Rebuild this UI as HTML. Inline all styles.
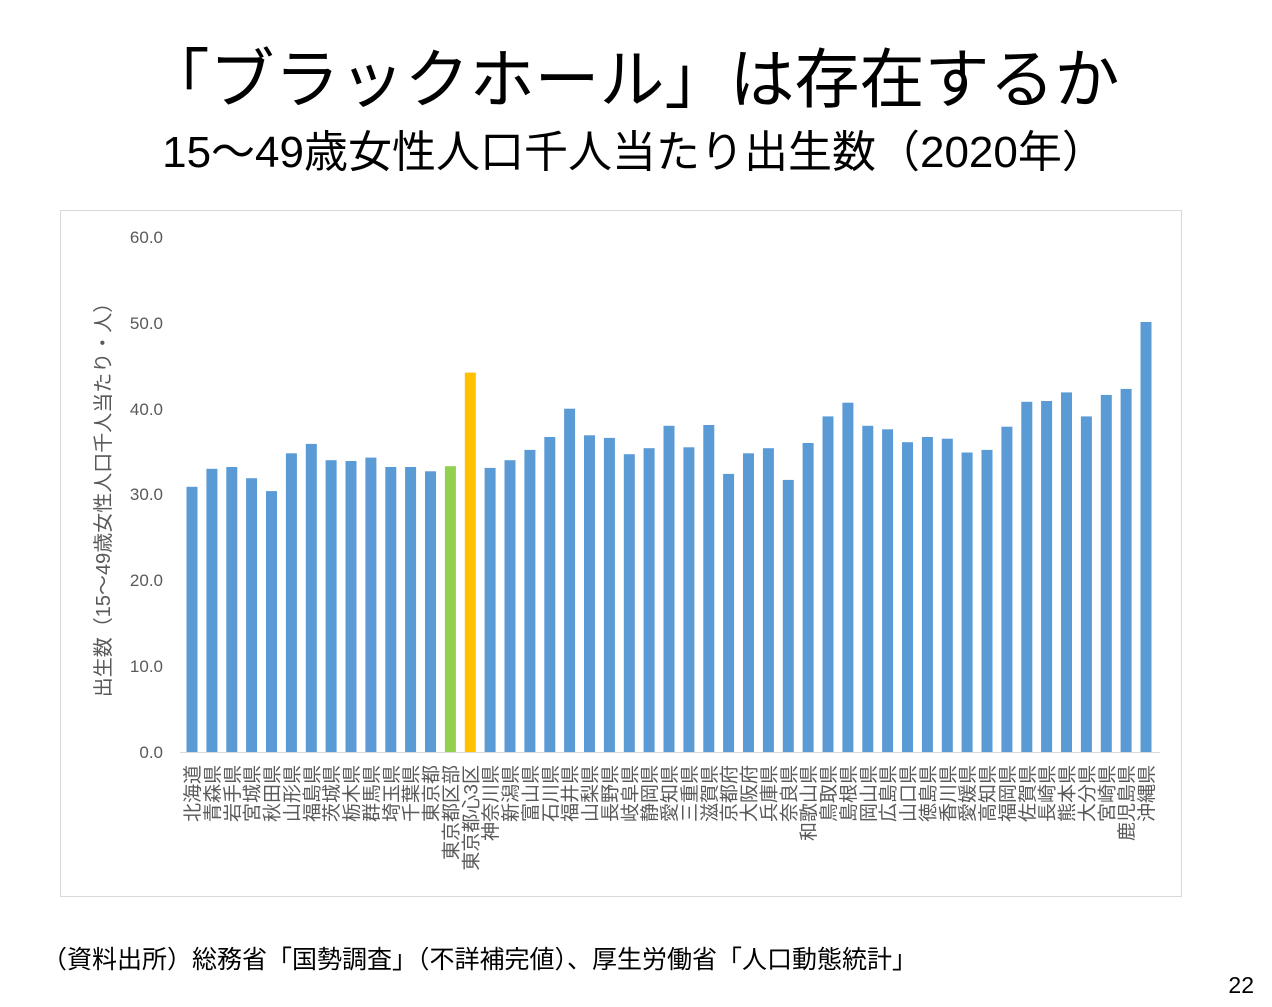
<!DOCTYPE html><html><head><meta charset="utf-8"><style>body{margin:0;background:#fff}svg{display:block}text{font-family:"Liberation Sans","Noto Sans CJK JP",sans-serif}</style></head><body>
<svg width="1272" height="1007" xmlns="http://www.w3.org/2000/svg">
<text x="632" y="102" font-size="65" text-anchor="middle" fill="#000">「ブラックホール」は存在するか</text>
<text x="634" y="167" font-size="44" text-anchor="middle" fill="#000">15～49歳女性人口千人当たり出生数（2020年）</text>
<rect x="60.5" y="210.5" width="1121" height="686" fill="none" stroke="#d9d9d9"/>
<g font-size="17" fill="#595959" text-anchor="end">
<text x="163" y="758">0.0</text><text x="163" y="672">10.0</text><text x="163" y="586">20.0</text><text x="163" y="500">30.0</text><text x="163" y="415">40.0</text><text x="163" y="329">50.0</text><text x="163" y="243">60.0</text>
</g>
<text transform="translate(110,495) rotate(-90)" font-size="20" fill="#595959" text-anchor="middle">出生数（15～49歳女性人口千人当たり・人）</text>
<line x1="180" y1="752.5" x2="1160" y2="752.5" stroke="#d9d9d9"/>
<g fill="#5b9bd5">
<rect x="186.5" y="486.8" width="11" height="265.2"/>
<rect x="206.4" y="468.8" width="11" height="283.2"/>
<rect x="226.3" y="467" width="11" height="285"/>
<rect x="246.1" y="478.2" width="11" height="273.8"/>
<rect x="266" y="491.1" width="11" height="260.9"/>
<rect x="285.9" y="453.3" width="11" height="298.7"/>
<rect x="305.8" y="443.9" width="11" height="308.1"/>
<rect x="325.6" y="460.2" width="11" height="291.8"/>
<rect x="345.5" y="461" width="11" height="291"/>
<rect x="365.4" y="457.6" width="11" height="294.4"/>
<rect x="385.3" y="467" width="11" height="285"/>
<rect x="405.1" y="467" width="11" height="285"/>
<rect x="425" y="471.3" width="11" height="280.7"/>
<rect x="444.9" y="466.2" width="11" height="285.8" fill="#92d050"/>
<rect x="464.8" y="372.6" width="11" height="379.4" fill="#ffc000"/>
<rect x="484.6" y="467.9" width="11" height="284.1"/>
<rect x="504.5" y="460.2" width="11" height="291.8"/>
<rect x="524.4" y="449.9" width="11" height="302.1"/>
<rect x="544.3" y="437" width="11" height="315"/>
<rect x="564.1" y="408.7" width="11" height="343.3"/>
<rect x="584" y="435.3" width="11" height="316.7"/>
<rect x="603.9" y="437.9" width="11" height="314.1"/>
<rect x="623.8" y="454.2" width="11" height="297.8"/>
<rect x="643.6" y="448.2" width="11" height="303.8"/>
<rect x="663.5" y="425.8" width="11" height="326.2"/>
<rect x="683.4" y="447.3" width="11" height="304.7"/>
<rect x="703.3" y="425" width="11" height="327"/>
<rect x="723.1" y="473.9" width="11" height="278.1"/>
<rect x="743" y="453.3" width="11" height="298.7"/>
<rect x="762.9" y="448.2" width="11" height="303.8"/>
<rect x="782.8" y="479.9" width="11" height="272.1"/>
<rect x="802.6" y="443" width="11" height="309"/>
<rect x="822.5" y="416.4" width="11" height="335.6"/>
<rect x="842.4" y="402.7" width="11" height="349.3"/>
<rect x="862.3" y="425.8" width="11" height="326.2"/>
<rect x="882.1" y="429.3" width="11" height="322.7"/>
<rect x="902" y="442.2" width="11" height="309.8"/>
<rect x="921.9" y="437" width="11" height="315"/>
<rect x="941.8" y="438.7" width="11" height="313.3"/>
<rect x="961.6" y="452.5" width="11" height="299.5"/>
<rect x="981.5" y="449.9" width="11" height="302.1"/>
<rect x="1001.4" y="426.7" width="11" height="325.3"/>
<rect x="1021.3" y="401.8" width="11" height="350.2"/>
<rect x="1041.1" y="401" width="11" height="351"/>
<rect x="1061" y="392.4" width="11" height="359.6"/>
<rect x="1080.9" y="416.4" width="11" height="335.6"/>
<rect x="1100.8" y="394.9" width="11" height="357.1"/>
<rect x="1120.6" y="388.9" width="11" height="363.1"/>
<rect x="1140.5" y="322" width="11" height="430"/>
</g>
<g font-size="19" fill="#595959" text-anchor="end">
<text transform="translate(199,765) rotate(-90)">北海道</text>
<text transform="translate(218.9,765) rotate(-90)">青森県</text>
<text transform="translate(238.8,765) rotate(-90)">岩手県</text>
<text transform="translate(258.6,765) rotate(-90)">宮城県</text>
<text transform="translate(278.5,765) rotate(-90)">秋田県</text>
<text transform="translate(298.4,765) rotate(-90)">山形県</text>
<text transform="translate(318.3,765) rotate(-90)">福島県</text>
<text transform="translate(338.1,765) rotate(-90)">茨城県</text>
<text transform="translate(358,765) rotate(-90)">栃木県</text>
<text transform="translate(377.9,765) rotate(-90)">群馬県</text>
<text transform="translate(397.8,765) rotate(-90)">埼玉県</text>
<text transform="translate(417.6,765) rotate(-90)">千葉県</text>
<text transform="translate(437.5,765) rotate(-90)">東京都</text>
<text transform="translate(457.4,765) rotate(-90)">東京都区部</text>
<text transform="translate(477.3,765) rotate(-90)">東京都心3区</text>
<text transform="translate(497.1,765) rotate(-90)">神奈川県</text>
<text transform="translate(517,765) rotate(-90)">新潟県</text>
<text transform="translate(536.9,765) rotate(-90)">富山県</text>
<text transform="translate(556.8,765) rotate(-90)">石川県</text>
<text transform="translate(576.6,765) rotate(-90)">福井県</text>
<text transform="translate(596.5,765) rotate(-90)">山梨県</text>
<text transform="translate(616.4,765) rotate(-90)">長野県</text>
<text transform="translate(636.3,765) rotate(-90)">岐阜県</text>
<text transform="translate(656.1,765) rotate(-90)">静岡県</text>
<text transform="translate(676,765) rotate(-90)">愛知県</text>
<text transform="translate(695.9,765) rotate(-90)">三重県</text>
<text transform="translate(715.8,765) rotate(-90)">滋賀県</text>
<text transform="translate(735.6,765) rotate(-90)">京都府</text>
<text transform="translate(755.5,765) rotate(-90)">大阪府</text>
<text transform="translate(775.4,765) rotate(-90)">兵庫県</text>
<text transform="translate(795.3,765) rotate(-90)">奈良県</text>
<text transform="translate(815.1,765) rotate(-90)">和歌山県</text>
<text transform="translate(835,765) rotate(-90)">鳥取県</text>
<text transform="translate(854.9,765) rotate(-90)">島根県</text>
<text transform="translate(874.8,765) rotate(-90)">岡山県</text>
<text transform="translate(894.6,765) rotate(-90)">広島県</text>
<text transform="translate(914.5,765) rotate(-90)">山口県</text>
<text transform="translate(934.4,765) rotate(-90)">徳島県</text>
<text transform="translate(954.3,765) rotate(-90)">香川県</text>
<text transform="translate(974.1,765) rotate(-90)">愛媛県</text>
<text transform="translate(994,765) rotate(-90)">高知県</text>
<text transform="translate(1013.9,765) rotate(-90)">福岡県</text>
<text transform="translate(1033.8,765) rotate(-90)">佐賀県</text>
<text transform="translate(1053.6,765) rotate(-90)">長崎県</text>
<text transform="translate(1073.5,765) rotate(-90)">熊本県</text>
<text transform="translate(1093.4,765) rotate(-90)">大分県</text>
<text transform="translate(1113.3,765) rotate(-90)">宮崎県</text>
<text transform="translate(1133.1,765) rotate(-90)">鹿児島県</text>
<text transform="translate(1153,765) rotate(-90)">沖縄県</text>
</g>
<text x="42" y="968" font-size="25" fill="#000">（資料出所）総務省「国勢調査」（不詳補完値）、厚生労働省「人口動態統計」</text>
<text x="1254" y="993" font-size="23" text-anchor="end" fill="#000">22</text>
</svg></body></html>
